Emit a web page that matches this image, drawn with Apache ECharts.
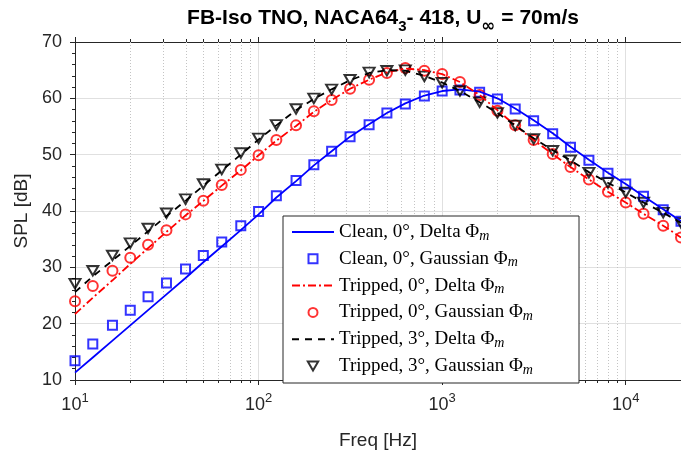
<!DOCTYPE html>
<html><head><meta charset="utf-8">
<script src="https://cdn.jsdelivr.net/npm/echarts@6/dist/echarts.min.js"></script>
<style>html,body{margin:0;padding:0;background:#fff}#c{width:681px;height:456px}</style>
</head><body><div id="c"></div>
<script>
// 1/3-octave band centre frequencies [Hz]
const freqs = [10,12.5,16,20,25,31.5,40,50,63,80,100,125,160,200,250,315,400,500,630,800,1000,1250,1600,2000,2500,3150,4000,5000,6300,8000,10000,12500,16000,20000];
// SPL [dB]
const cleanDelta    = [11.3,14.0,17.0,19.7,22.4,25.2,28.1,30.9,33.7,36.6,39.4,42.4,45.3,48.1,50.6,53.2,55.4,57.4,59.1,60.5,61.3,61.6,61.2,60.0,58.2,56.1,53.8,51.4,49.1,46.8,44.8,42.6,40.3,38.2];
const cleanGauss    = [13.4,16.4,19.7,22.4,24.8,27.2,29.7,32.1,34.5,37.4,39.9,42.7,45.4,48.2,50.6,53.2,55.3,57.4,59.0,60.4,61.3,61.5,61.1,59.9,58.1,56.0,53.7,51.3,49.0,46.7,44.8,42.6,40.2,38.2];
const trip0Delta    = [21.7,24.6,27.7,30.6,33.4,36.3,39.2,41.8,44.5,47.2,49.9,52.5,55.1,57.6,59.7,61.7,63.3,64.6,65.3,65.0,64.3,62.9,60.6,57.9,55.2,52.6,50.1,47.8,45.6,43.4,41.5,39.5,37.4,35.3];
const trip0Gauss    = [24.0,26.7,29.4,31.7,34.0,36.6,39.4,41.8,44.6,47.3,49.9,52.6,55.2,57.7,59.7,61.7,63.3,64.5,65.4,64.9,64.3,62.9,60.6,57.8,55.2,52.6,50.1,47.8,45.6,43.4,41.5,39.5,37.4,35.3];
const trip3Delta    = [25.6,28.4,31.2,33.8,36.4,39.1,41.8,44.5,47.2,50.0,52.7,55.2,57.9,59.9,61.6,63.2,64.5,65.0,64.9,64.0,62.8,61.3,59.3,57.4,55.2,52.9,50.8,49.0,46.9,45.0,43.3,41.5,39.7,37.9];
const trip3Gauss    = [27.1,29.4,32.1,34.3,36.9,39.6,42.1,44.8,47.4,50.3,52.9,55.3,58.1,60.0,61.6,63.3,64.6,64.9,65.0,63.9,62.8,61.3,59.3,57.4,55.2,52.8,50.7,49.0,46.8,45.0,43.3,41.5,39.7,37.9];
const seriesNames = ['Clean, 0°, Delta Φm','Clean, 0°, Gaussian Φm','Tripped, 0°, Delta Φm','Tripped, 0°, Gaussian Φm','Tripped, 3°, Delta Φm','Tripped, 3°, Gaussian Φm'];
const titleText = '{a|FB-Iso TNO, NACA64}{s|3}{a|- 418, U}{i|∞}{a| = 70m/s}';
const xName = 'Freq [Hz]';
const yName = 'SPL [dB]';
const yTicks = [10,20,30,40,50,60,70];

const minorX = [];
[10,100,1000,10000].forEach(d => { for (let k = 2; k <= 9; k++) { if (d*k < 20000) minorX.push(d*k); } });

const AX = '#262626';
const BLUE = '#0000ff', RED = '#ff0000', BLACK = '#000000';
const pair = arr => freqs.map((f,i) => [f, arr[i]]);
const tri = 'path://M0,0 L10,0 L5,8.66 Z';
const sq = 'path://M0,0 L10,0 L10,10 L0,10 Z';
const hidden = {color: 'rgba(0,0,0,0)', borderColor: 'rgba(0,0,0,0)', borderWidth: 0};

const chart = echarts.init(document.getElementById('c'), null, {renderer:'canvas'});
const xLabelFmt = v => {
  const e = Math.round(Math.log10(v));
  if (Math.abs(Math.log10(v) - e) > 1e-6) return '';
  return '{b|10}{s|' + e + '}';
};

chart.setOption({
  animation: false,
  backgroundColor: '#fff',
  title: {
    text: titleText, left: 378, top: -3, textAlign: 'center',
    textStyle: {
      rich: {
        a: {fontFamily: 'Liberation Sans', fontWeight: 'bold', fontSize: 21, color: '#000'},
        s: {fontFamily: 'Liberation Sans', fontWeight: 'bold', fontSize: 15, color: '#000', padding: [16,0,0,0]},
        i: {fontFamily: 'DejaVu Sans', fontSize: 17, color: '#000', padding: [16,0,0,0]}
      }
    }
  },
  grid: {left: 75, right: 0, top: 42, bottom: 76, containLabel: false},
  legend: {
    orient: 'vertical', left: 283, top: 216,
    backgroundColor: '#fff', borderColor: AX, borderWidth: 1,
    padding: [6, 4, 6, 8],
    itemWidth: 42, itemHeight: 9, itemGap: 5.8,
    data: [
      {name: seriesNames[0], itemStyle: hidden},
      {name: seriesNames[1], icon: sq, itemStyle: {color: 'rgba(0,0,0,0)', borderColor: BLUE, borderWidth: 2}},
      {name: seriesNames[2], itemStyle: hidden},
      {name: seriesNames[3], icon: 'circle', itemStyle: {color: 'rgba(0,0,0,0)', borderColor: RED, borderWidth: 2}},
      {name: seriesNames[4], itemStyle: hidden},
      {name: seriesNames[5], icon: tri, itemStyle: {color: 'rgba(0,0,0,0)', borderColor: BLACK, borderWidth: 2}}
    ],
    formatter: n => '{t|' + n.slice(0, -2) + '}{p|Φ}{m|m}',
    textStyle: {
      width: 236, lineHeight: 20,
      rich: {
        t: {fontFamily: 'Liberation Serif', fontSize: 19, color: '#000', lineHeight: 20},
        p: {fontFamily: 'Liberation Serif', fontSize: 19, color: '#000', lineHeight: 20},
        m: {fontFamily: 'Liberation Serif', fontStyle: 'italic', fontSize: 14, color: '#000', padding: [8,0,0,0]}
      }
    }
  },
  xAxis: [{
    type: 'log', logBase: 10, min: 10, max: 20000,
    name: xName, nameLocation: 'middle', nameGap: 51,
    nameTextStyle: {fontFamily: 'Liberation Sans', fontSize: 19, color: AX},
    axisLine: {show: true, lineStyle: {color: AX, width: 1}},
    axisTick: {show: true, length: 5, lineStyle: {color: AX}},
    minorTick: {show: false},
    splitLine: {show: true, lineStyle: {color: '#e0e0e0', width: 1}},
    axisLabel: {
      show: true, margin: 12, formatter: xLabelFmt, showMaxLabel: false,
      rich: {
        b: {fontFamily: 'Liberation Sans', fontSize: 18, color: AX},
        s: {fontFamily: 'Liberation Sans', fontSize: 13, color: AX, padding: [0,0,14,0]}
      }
    }
  }, {
    type: 'log', logBase: 10, min: 10, max: 20000, position: 'top',
    axisLine: {show: true, lineStyle: {color: AX, width: 1}},
    axisTick: {show: true, length: 5, lineStyle: {color: AX}},
    axisLabel: {show: false}, splitLine: {show: false}
  }],
  yAxis: {
    type: 'value', min: yTicks[0], max: yTicks[yTicks.length-1], interval: 10,
    name: yName, nameLocation: 'middle', nameGap: 44,
    nameTextStyle: {fontFamily: 'Liberation Sans', fontSize: 19, color: AX},
    axisLine: {show: true, lineStyle: {color: AX, width: 1}},
    axisTick: {show: true, length: 5, lineStyle: {color: AX}},
    minorTick: {show: true, splitNumber: 5, length: 3, lineStyle: {color: AX}},
    splitLine: {show: true, lineStyle: {color: '#e0e0e0', width: 1}},
    axisLabel: {margin: 13, fontFamily: 'Liberation Sans', fontSize: 18, color: AX}
  },
  series: [
    {
      type: 'custom', name: '_minor', silent: true, clip: false, z: 1,
      data: minorX.map(v => [v, 10]),
      renderItem: (params, api) => {
        const v = api.value(0);
        const b = api.coord([v, 10]);
        const t = api.coord([v, 70]);
        const x = Math.round(b[0]) + 0.5;
        return {type: 'group', children: [
          {type: 'line', shape: {x1: x, y1: t[1], x2: x, y2: b[1]}, style: {stroke: '#c4c4c4', lineWidth: 1, lineDash: [1,2]}},
          {type: 'line', shape: {x1: x, y1: b[1], x2: x, y2: b[1] + 3}, style: {stroke: AX, lineWidth: 1}},
          {type: 'line', shape: {x1: x, y1: t[1], x2: x, y2: t[1] - 3}, style: {stroke: AX, lineWidth: 1}}
        ]};
      }
    },
    {type: 'line', name: seriesNames[0], data: pair(cleanDelta), symbol: 'none', color: BLUE,
     lineStyle: {color: BLUE, width: 1.8, type: 'solid'}},
    {type: 'scatter', name: seriesNames[1], data: pair(cleanGauss), symbol: 'rect', symbolSize: 9,
     itemStyle: {color: 'rgba(0,0,0,0)', borderColor: BLUE, borderWidth: 2}},
    {type: 'line', name: seriesNames[2], data: pair(trip0Delta), symbol: 'none', color: RED,
     lineStyle: {color: RED, width: 1.8, type: [8,3,2,3]}},
    {type: 'scatter', name: seriesNames[3], data: pair(trip0Gauss), symbol: 'circle', symbolSize: 10,
     itemStyle: {color: 'rgba(0,0,0,0)', borderColor: RED, borderWidth: 2}},
    {type: 'line', name: seriesNames[4], data: pair(trip3Delta), symbol: 'none', color: BLACK,
     lineStyle: {color: BLACK, width: 1.8, type: [7,6]}},
    {type: 'scatter', name: seriesNames[5], data: pair(trip3Gauss), symbol: tri, symbolSize: [11,9.5],
     itemStyle: {color: 'rgba(0,0,0,0)', borderColor: BLACK, borderWidth: 2}}
  ]
});
</script>
</body></html>
